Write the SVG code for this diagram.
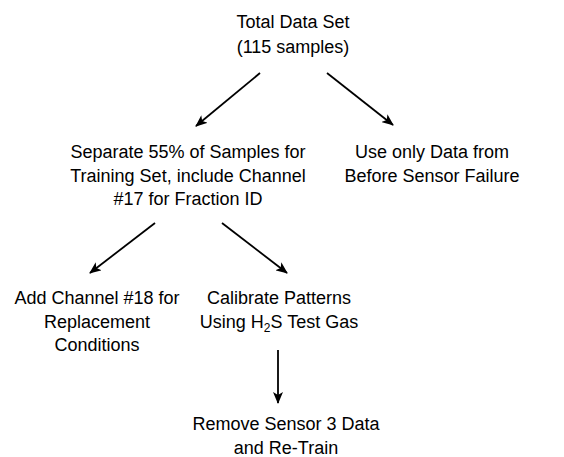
<svg xmlns="http://www.w3.org/2000/svg" width="564" height="457" viewBox="0 0 564 457">
  <style>
    text { font-family: "Liberation Sans", Arial, sans-serif; font-size: 18px; fill: #000; text-anchor: middle; }
    .conn { stroke: #000; stroke-width: 1.8; fill: none; marker-end: url(#arrow); }
  </style>
  <defs>
    <marker id="arrow" viewBox="0 0 12 10" refX="11" refY="5" markerWidth="12" markerHeight="10" markerUnits="userSpaceOnUse" orient="auto">
      <path d="M0,0 L12,5 L0,10 L3,5 Z" fill="#000"/>
    </marker>
  </defs>
  <rect width="564" height="457" fill="#fff"/>

  <g id="total">
    <text x="293" y="28">Total Data Set</text>
    <text x="293" y="52.5">(115 samples)</text>
  </g>
  <g id="separate">
    <text x="188" y="158">Separate 55% of Samples for</text>
    <text x="188" y="181.5">Training Set, include Channel</text>
    <text x="188" y="205">#17 for Fraction ID</text>
  </g>
  <g id="before-failure">
    <text x="432" y="158">Use only Data from</text>
    <text x="432" y="181.5">Before Sensor Failure</text>
  </g>
  <g id="add-channel">
    <text x="97" y="304">Add Channel #18 for</text>
    <text x="97" y="327.5">Replacement</text>
    <text x="97" y="351">Conditions</text>
  </g>
  <g id="calibrate">
    <text x="279" y="304">Calibrate Patterns</text>
    <text x="279" y="327.5">Using H<tspan font-size="12" dy="4">2</tspan><tspan dy="-4">S Test Gas</tspan></text>
  </g>
  <g id="remove">
    <text x="286" y="430">Remove Sensor 3 Data</text>
    <text x="286" y="453.5">and Re-Train</text>
  </g>

  <g id="connectors">
    <line class="conn" x1="260" y1="73" x2="196" y2="126"/>
    <line class="conn" x1="327" y1="73" x2="393" y2="125"/>
    <line class="conn" x1="155" y1="223" x2="90" y2="273"/>
    <line class="conn" x1="222" y1="223" x2="287" y2="273"/>
    <line class="conn" x1="278" y1="350" x2="278" y2="403"/>
  </g>
</svg>
